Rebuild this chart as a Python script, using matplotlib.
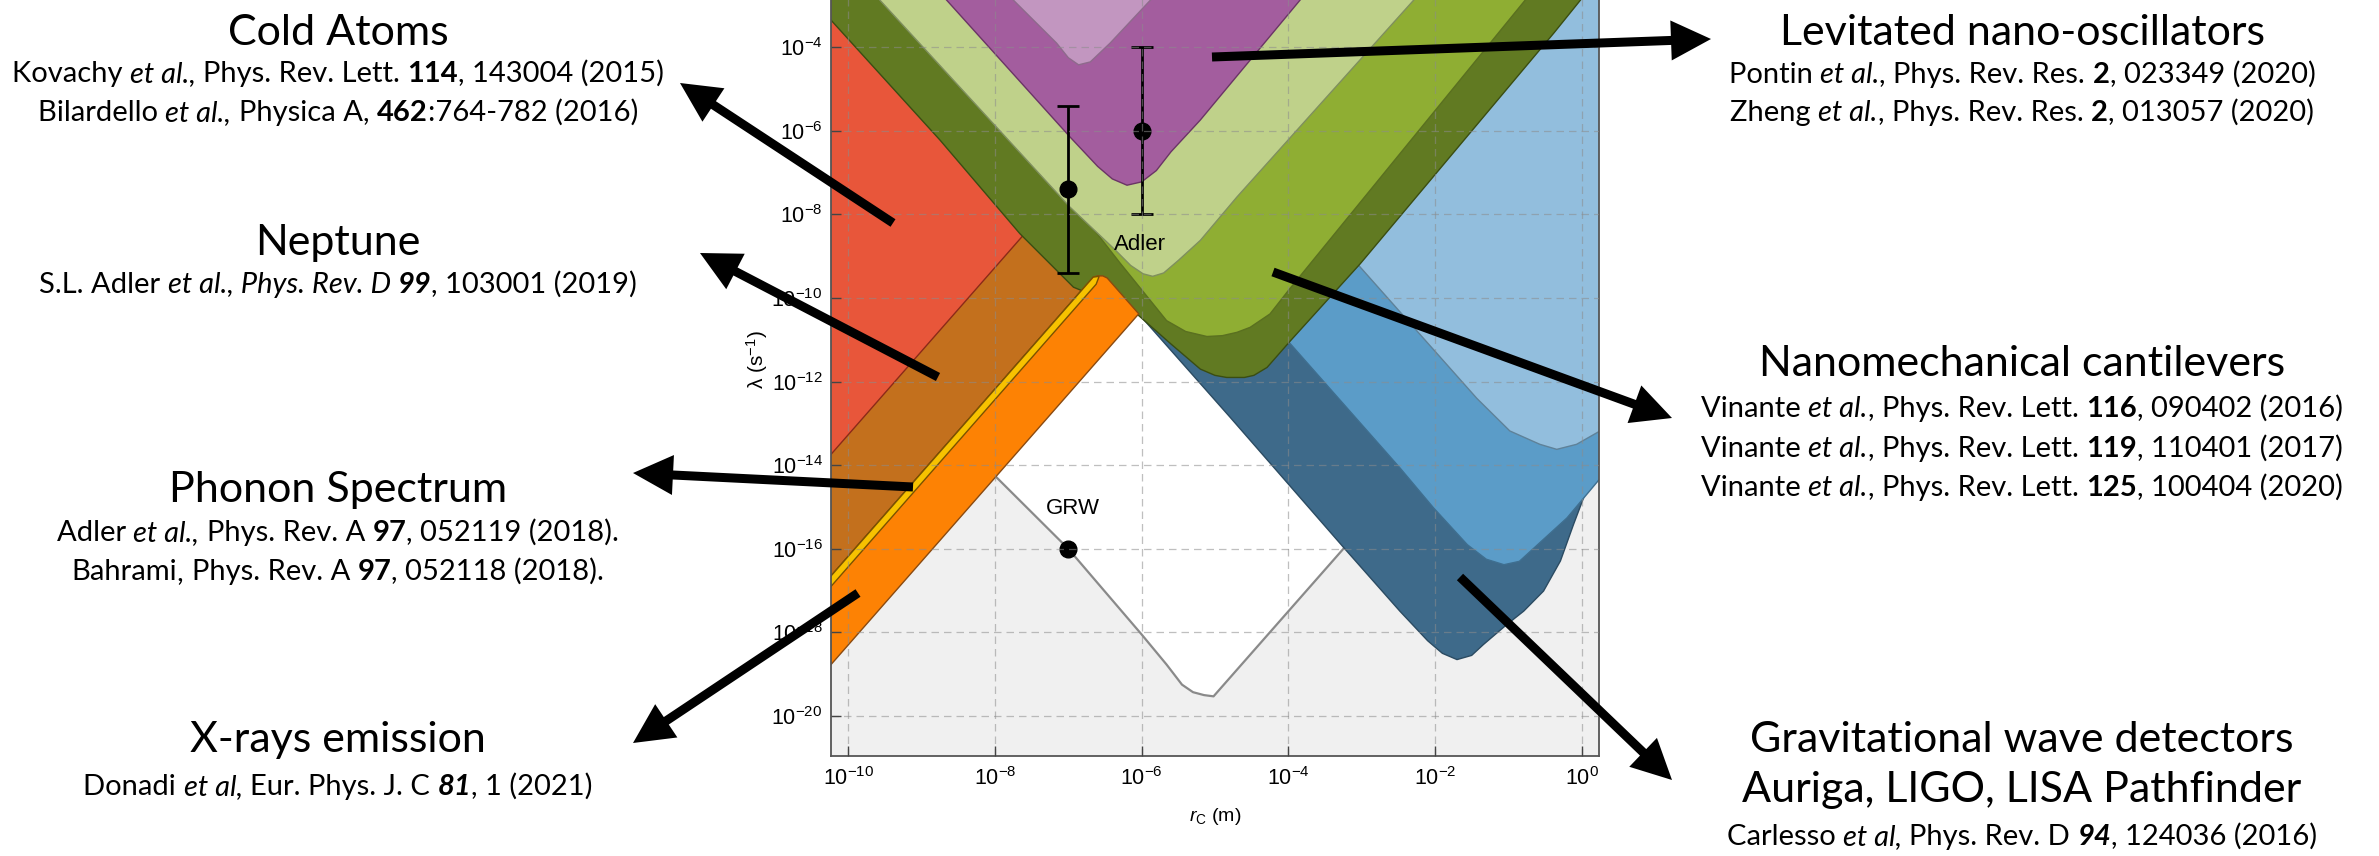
import matplotlib
matplotlib.use("Agg")
import numpy as np
import matplotlib.pyplot as plt
from matplotlib.font_manager import FontProperties
from matplotlib.transforms import IdentityTransform
from matplotlib.patches import FancyArrow
from matplotlib.ticker import LogFormatterMathtext, NullLocator

plt.rcParams["font.family"] = ["Liberation Sans", "DejaVu Sans"]
plt.rcParams["mathtext.fontset"] = "custom"
plt.rcParams["mathtext.rm"] = "Liberation Sans"
plt.rcParams["mathtext.it"] = "Liberation Sans:italic"
plt.rcParams["mathtext.bf"] = "Liberation Sans:bold"

# ---------------------------------------------------------------- data
# all curves are given as (log10 r_C [m], log10 lambda [1/s]) vertices

# theoretical lower bound (grey V), region below it is shaded grey
theory_x = [-7.985, -7.0, -6.0, -5.66, -5.45, -5.30, -5.15, -5.02, -3.25, -1.0, 0.5]
theory_y = [-14.28, -16.0, -18.05, -18.77, -19.25, -19.43, -19.50, -19.53, -16.0, -11.49, -8.47]

# gravitational wave detectors (three bounds)
gw_dark_x = [-8.5, -6.04, -4.79, -3.25, -2.48, -2.10, -1.90, -1.70, -1.50, -1.34, -1.02, -0.79,
             -0.52, -0.29, -0.11, 0.0, 0.3, 0.6]
gw_dark_y = [-5.46, -10.38, -12.86, -15.96, -17.49, -18.20, -18.50, -18.65, -18.55, -18.29, -17.81,
             -17.49, -17.01, -16.29, -15.41, -14.90, -13.5, -12.0]
gw_mid_x = [-7.0, -4.0, -2.48, -2.02, -1.56, -1.30, -1.06, -0.85, -0.65, -0.20, 0.24, 0.6]
gw_mid_y = [-5.0, -11.04, -14.06, -15.02, -15.90, -16.25, -16.38, -16.30, -15.98, -15.26, -14.34, -13.6]
gw_light_x = [-6.0, -3.04, -1.43, -0.98, -0.57, -0.34, -0.07, 0.25, 0.6]
gw_light_y = [-3.3, -9.22, -12.40, -13.18, -13.50, -13.62, -13.50, -13.18, -12.5]

# X-ray emission band and phonon strip
xray_x = [-10.5, -6.04, -6.47, -6.53, -6.60, -6.661, -10.5]
xray_y = [-19.298, -10.378, -9.52, -9.47, -9.47, -9.50, -17.178]
phonon_x = [-10.5, -6.62, -6.58, -6.661, -10.5]
phonon_y = [-17.428, -9.668, -9.48, -9.50, -17.178]

# Neptune and cold atoms (lower edges)
neptune_x = [-10.5, -6.3]
neptune_y = [-17.178, -8.778]
cold_x = [-10.5, -7.0]
cold_y = [-14.268, -7.268]

# nanomechanical cantilevers (three bounds)
cant_dark_x = [-10.5, -10.236, -8.75, -7.66, -6.93, -6.82, -6.60, -6.04, -5.60, -5.20, -5.00, -4.84,
               -4.60, -4.47, -4.29, -3.97, -3.02, -0.38, 0.2]
cant_dark_y = [-2.82, -3.35, -6.22, -8.46, -9.74, -9.82, -9.95, -10.42, -11.10, -11.70, -11.85, -11.90,
               -11.90, -11.85, -11.66, -11.02, -9.18, -3.66, -2.4]
cant_mid_x = [-7.5, -6.30, -5.66, -5.40, -5.11, -4.90, -4.70, -4.52, -4.25, -4.0, -0.77, -0.5]
cant_mid_y = [-6.45, -9.15, -10.54, -10.80, -10.92, -10.90, -10.82, -10.70, -10.38, -9.82, -2.87, -2.3]
cant_light_x = [-10.5, -9.57, -6.98, -6.60, -6.36, -6.15, -5.98, -5.85, -5.70, -5.50, -5.20, -4.70, -2.29, -2.0]
cant_light_y = [-1.10, -2.87, -7.82, -8.45, -8.85, -9.22, -9.42, -9.48, -9.40, -9.10, -8.62, -7.58, -2.87, -2.3]

# levitated nano-oscillators (two bounds)
lev_x = [-9.5, -8.66, -6.98, -6.60, -6.40, -6.20, -6.00, -5.80, -5.60, -5.20, -3.84, -3.5]
lev_y = [-1.2, -2.87, -6.14, -6.85, -7.15, -7.30, -7.22, -6.95, -6.50, -5.74, -2.87, -2.2]
lev_light_x = [-8.2, -7.75, -7.16, -7.00, -6.86, -6.70, -6.43, -5.88, -5.5]
lev_light_y = [-2.0, -2.87, -3.90, -4.25, -4.42, -4.35, -3.90, -2.87, -2.1]

# proposed parameter values
grw_point = (-7.0, -16.0)
adler_x = [-7.0, -6.0]
adler_y = [-7.4, -6.0]
adler_err = [2.0, 2.0]

# tick decades
xtick_exp = [-10, -8, -6, -4, -2, 0]
ytick_exp = [-20, -18, -16, -14, -12, -10, -8, -6, -4]

# side annotations: (title, [reference lines]); style codes n / i / b / bi
left_titles = ["Cold Atoms", "Neptune", "Phonon Spectrum", "X-rays emission"]
left_refs = [
    [[("Kovachy ", "n"), ("et al.,", "i"), (" Phys. Rev. Lett. ", "n"), ("114", "b"), (", 143004 (2015)", "n")],
     [("Bilardello ", "n"), ("et al.,", "i"), (" Physica A, ", "n"), ("462", "b"), (":764-782 (2016)", "n")]],
    [[("S.L. Adler ", "n"), ("et al., Phys. Rev. D ", "i"), ("99", "bi"), (", 103001 (2019)", "n")]],
    [[("Adler ", "n"), ("et al.,", "i"), (" Phys. Rev. A ", "n"), ("97", "b"), (", 052119 (2018).", "n")],
     [("Bahrami", "n"), (",", "i"), (" Phys. Rev. A ", "n"), ("97", "b"), (", 052118 (2018).", "n")]],
    [[("Donadi ", "n"), ("et al,", "i"), (" Eur. Phys. J. C ", "n"), ("81", "bi"), (", 1 (2021)", "n")]],
]
right_titles = ["Levitated nano-oscillators", "Nanomechanical cantilevers",
                "Gravitational wave detectors", "Auriga, LIGO, LISA Pathfinder"]
right_refs = [
    [[("Pontin ", "n"), ("et al.", "i"), (", Phys. Rev. Res. ", "n"), ("2", "b"), (", 023349 (2020)", "n")],
     [("Zheng ", "n"), ("et al.", "i"), (", Phys. Rev. Res. ", "n"), ("2", "b"), (", 013057 (2020)", "n")]],
    [[("Vinante ", "n"), ("et al.", "i"), (", Phys. Rev. Lett. ", "n"), ("116", "b"), (", 090402 (2016)", "n")],
     [("Vinante ", "n"), ("et al.", "i"), (", Phys. Rev. Lett. ", "n"), ("119", "b"), (", 110401 (2017)", "n")],
     [("Vinante ", "n"), ("et al.", "i"), (", Phys. Rev. Lett. ", "n"), ("125", "b"), (", 100404 (2020)", "n")]],
    [],
    [[("Carlesso ", "n"), ("et al,", "i"), (" Phys. Rev. D ", "n"), ("94", "bi"), (", 124036 (2016)", "n")]],
]

# ---------------------------------------------------------------- layout
W, H = 2379, 856
fig = plt.figure(figsize=(W / 100, H / 100), dpi=100)
fig.patch.set_facecolor("white")

ax_left, ax_right = 831.0, 1599.0
ax_bottom, ax_top = 755.7, -36.3          # image pixel rows
ax = fig.add_axes([ax_left / W, (H - ax_bottom) / H,
                   (ax_right - ax_left) / W, (ax_bottom - ax_top) / H])
ax.set_xscale("log")
ax.set_yscale("log")
ax.set_xlim(10 ** -10.236, 10 ** 0.236)
ax.set_ylim(10 ** -20.95, 10 ** -2.0)
ax.set_facecolor("#f0f0f0")

TOP = 1.0


def region(xs, ys, face, edge, z, closed=False, lw=1.0):
    xs = np.asarray(xs, float)
    ys = np.asarray(ys, float)
    if not closed:
        xs = np.r_[xs, xs[-1], xs[0]]
        ys = np.r_[ys, TOP, TOP]
    ax.fill(10 ** xs, 10 ** ys, facecolor=face, edgecolor=edge, lw=lw, zorder=z)


# white allowed region above the theoretical bound
region(theory_x, theory_y, "white", "none", 1.0, lw=0)
ax.plot(10 ** np.asarray(theory_x), 10 ** np.asarray(theory_y), color="#8a8a8a", lw=1.6, zorder=1.05)

region(gw_dark_x, gw_dark_y, "#3e6a8a", "#2b4b62", 1.2)
region(gw_mid_x, gw_mid_y, "#5b9cc8", "#3f6f90", 1.3)
region(gw_light_x, gw_light_y, "#92bedd", "#5f8299", 1.4)
region(neptune_x, neptune_y, "#c3701d", "#6e3a0a", 1.5)
region(cold_x, cold_y, "#e8563a", "#8b2a18", 1.6)
region(cant_dark_x, cant_dark_y, "#617a22", "#3a4d12", 1.7)
region(cant_mid_x, cant_mid_y, "#8fae33", "#5a7020", 1.8)
region(cant_light_x, cant_light_y, "#bfd18a", "#7f8f5e", 1.9)
region(lev_x, lev_y, "#a35d9e", "#6b3466", 2.0)
region(lev_light_x, lev_light_y, "#c296c0", "#8e6a8c", 2.1)
region(xray_x, xray_y, "#fd8204", "#8a4a10", 2.2, closed=True)
region(phonon_x, phonon_y, "#f7c200", "#7a5200", 2.3, closed=True)

# proposed values
ax.errorbar(10 ** np.asarray(adler_x), 10 ** np.asarray(adler_y),
            yerr=[10 ** np.asarray(adler_y) - 10 ** (np.asarray(adler_y) - adler_err),
                  10 ** (np.asarray(adler_y) + adler_err) - 10 ** np.asarray(adler_y)],
            fmt="o", color="black", ms=12, elinewidth=2.0, capsize=8, capthick=2.0, zorder=2.4)
ax.plot(10 ** grw_point[0], 10 ** grw_point[1], "o", color="black", ms=12, zorder=2.4)
ax.text(10 ** -6.94, 10 ** -15.03, "GRW", ha="center", va="center", fontsize=16, zorder=3)
ax.text(10 ** -6.02, 10 ** -8.73, "Adler", ha="center", va="center", fontsize=16, zorder=3)

# axes styling
ax.set_axisbelow(False)
ax.set_xticks([10.0 ** e for e in xtick_exp])
ax.set_yticks([10.0 ** e for e in ytick_exp])
ax.xaxis.set_minor_locator(NullLocator())
ax.yaxis.set_minor_locator(NullLocator())
ax.xaxis.set_major_formatter(LogFormatterMathtext())
ax.yaxis.set_major_formatter(LogFormatterMathtext())
ax.tick_params(direction="in", length=7, width=1.0, color="#444444", labelsize=15.5)
ax.tick_params(axis="x", pad=8)
ax.tick_params(axis="y", pad=6)
ax.grid(True, color="#8c8c8c", alpha=0.55, lw=0.9, linestyle=(0, (6, 4)))
for side in ("left", "bottom", "right"):
    ax.spines[side].set_color("#555555")
    ax.spines[side].set_linewidth(1.3)
ax.spines["top"].set_visible(False)

ax.set_xlabel(r"$r_{\rm C}$ (m)", fontsize=14)
ax.set_ylabel(r"λ (s$^{-1}$)", fontsize=15)
ax.xaxis.set_label_coords(0.5, -0.064)
ax.yaxis.set_label_coords(-0.079, 0.5)

# ---------------------------------------------------------------- side text
renderer = fig.canvas.get_renderer()
FAMILY = "Lato"
TITLE_SIZE = 31
REF_SIZE = 21


def fprops(style, size):
    return FontProperties(family=FAMILY, size=size,
                          style="italic" if "i" in style else "normal",
                          weight="bold" if "b" in style else "normal")


def advance(s, fp):
    w1, _, _ = renderer.get_text_width_height_descent("|" + s + "|", fp, ismath=False)
    w2, _, _ = renderer.get_text_width_height_descent("||", fp, ismath=False)
    return w1 - w2


def rich_line(xc, y_img, segs, size):
    fps = [fprops(st, size) for _, st in segs]
    widths = [advance(s, f) for (s, _), f in zip(segs, fps)]
    x = xc - sum(widths) / 2.0
    for (s, _), f, w in zip(segs, fps, widths):
        lead = len(s) - len(s.lstrip(" "))
        xo = x + (advance(" " * lead, f) if lead else 0.0)
        fig.text(xo / W, (H - y_img) / H, s.lstrip(" "), fontproperties=f,
                 ha="left", va="baseline")
        x += w


def title(xc, y_img, s):
    fig.text(xc / W, (H - y_img) / H, s, fontproperties=fprops("n", TITLE_SIZE),
             ha="center", va="baseline")


LEFT_X, RIGHT_X = 338, 2022
left_title_y = [45, 255, 502, 752]
left_ref_y = [[82, 121], [293], [541, 580], [795]]
right_title_y = [45, 376, 752, 802]
right_ref_y = [[83, 121], [417, 457, 496], [], [845]]

for t, ty, refs, rys in zip(left_titles, left_title_y, left_refs, left_ref_y):
    title(LEFT_X, ty, t)
    for segs, ry in zip(refs, rys):
        rich_line(LEFT_X, ry, segs, REF_SIZE)
for t, ty, refs, rys in zip(right_titles, right_title_y, right_refs, right_ref_y):
    title(RIGHT_X, ty, t)
    for segs, ry in zip(refs, rys):
        rich_line(RIGHT_X, ry, segs, REF_SIZE)

# ---------------------------------------------------------------- arrows
arrow_paths = [
    ((893, 223), (680, 83)),
    ((938, 377), (700, 253)),
    ((913, 487), (633, 473)),
    ((858, 593), (633, 743)),
    ((1212, 57), (1711, 39)),
    ((1273, 272), (1672, 418)),
    ((1460, 577), (1672, 780)),
]
for (x0, y0), (x1, y1) in arrow_paths:
    arr = FancyArrow(x0, H - y0, x1 - x0, -(y1 - y0), width=9, head_width=40, head_length=40,
                     length_includes_head=True, color="black", lw=0,
                     transform=IdentityTransform(), zorder=10)
    fig.add_artist(arr)

fig.savefig("out.png", dpi=100, facecolor="white")
